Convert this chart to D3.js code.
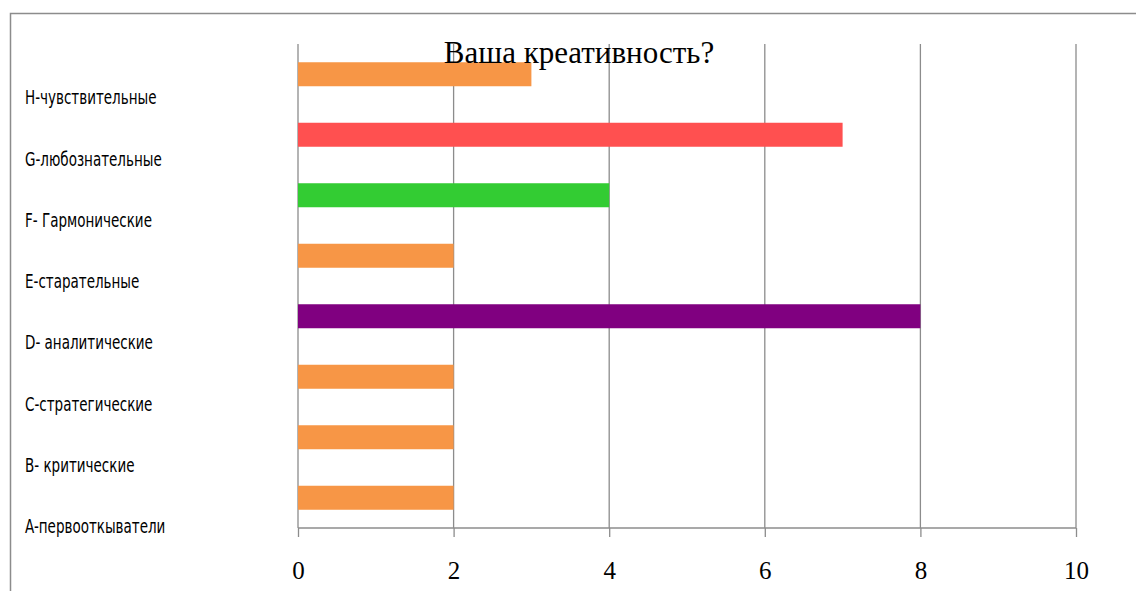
<!DOCTYPE html>
<html>
<head>
<meta charset="utf-8">
<script src="https://cdn.jsdelivr.net/npm/d3@7"></script>
<style>
  body { margin: 0; background: #fff; }
</style>
</head>
<body>
<div id="chart-container"></div>
<script>
// Data (bottom to top)
const categories = ["A-первооткыватели", "B- критические", "C-стратегические", "D- аналитические",
  "E-старательные", "F- Гармонические", "G-любознательные", "H-чувствительные"];
const values = [2, 2, 2, 8, 2, 4, 7, 3];
const colors = ["#F79646", "#F79646", "#F79646", "#800080", "#F79646", "#33CC33", "#FF5050", "#F79646"];
const xTicks = [0, 2, 4, 6, 8, 10];
const title = "Ваша креативность?";

// Set dimensions and margins
const W = 1136, H = 591;
const margin = { top: 44, right: 60, bottom: 63, left: 298 };
const width = W - margin.left - margin.right;
const height = H - margin.top - margin.bottom;

const svg = d3.select("#chart-container")
  .append("svg")
  .attr("width", W)
  .attr("height", H);

// outer frame
svg.append("rect")
  .attr("x", 10.5).attr("y", 13.5)
  .attr("width", W + 20).attr("height", H + 20)
  .attr("fill", "none")
  .attr("stroke", "#8c8c8c")
  .attr("stroke-width", 1.5);

const g = svg.append("g")
  .attr("transform", `translate(${margin.left},${margin.top})`);

const x = d3.scaleLinear().domain([0, 10]).range([0, width]);
// top category first
const band = d3.scaleBand().domain(categories.slice().reverse()).range([0, height]);
// label baselines (slightly different spacing than the bars, as in the original)
const labelY = d3.scalePoint().domain(categories.slice().reverse()).range([104.3 - margin.top, 533.3 - margin.top]);

// vertical gridlines
g.selectAll(".xgrid")
  .data(xTicks)
  .join("line")
  .attr("x1", d => x(d)).attr("x2", d => x(d))
  .attr("y1", 0).attr("y2", height)
  .attr("stroke", "#8c8c8c")
  .attr("stroke-width", 1.3);

// bars
g.selectAll(".bar")
  .data(categories)
  .join("rect")
  .attr("x", x(0))
  .attr("y", d => band(d) + band.bandwidth() / 2 - 12)
  .attr("width", (d, i) => x(values[i]) - x(0))
  .attr("height", 24)
  .attr("fill", (d, i) => colors[i]);

// bottom axis
g.append("g")
  .attr("transform", `translate(0,${height})`)
  .call(d3.axisBottom(x).tickValues(xTicks).tickSize(9).tickPadding(24))
  .call(a => a.select(".domain").attr("stroke", "#8c8c8c").attr("stroke-width", 1.3).attr("d", `M0,0H${width}`))
  .call(a => a.selectAll(".tick line").attr("stroke", "#8c8c8c").attr("stroke-width", 1.3))
  .call(a => a.selectAll(".tick text")
    .attr("fill", "#000")
    .style("font-family", "'Liberation Serif', 'Times New Roman', serif")
    .style("font-size", "25px"));

// category labels, condensed sans
const sx = 0.79;
g.selectAll(".cat")
  .data(categories)
  .join("text")
  .attr("transform", d => `translate(${25 - margin.left},${labelY(d)}) scale(${sx},1)`)
  .attr("fill", "#000")
  .style("font-family", "'DejaVu Sans Condensed', 'DejaVu Sans', sans-serif")
  .style("font-size", "19px")
  .text(d => d);

// title
svg.append("text")
  .attr("x", 579)
  .attr("y", 63)
  .attr("text-anchor", "middle")
  .attr("fill", "#000")
  .style("font-family", "'Liberation Serif', 'Times New Roman', serif")
  .style("font-size", "31px")
  .text(title);
</script>
</body>
</html>
